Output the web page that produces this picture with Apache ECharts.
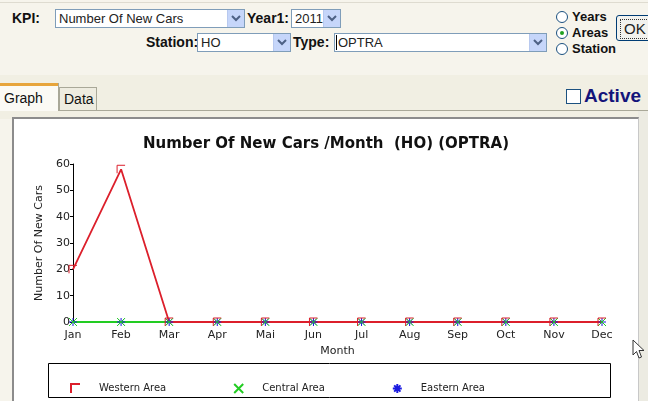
<!DOCTYPE html>
<html>
<head>
<meta charset="utf-8">
<script src="https://cdn.jsdelivr.net/npm/echarts@6/dist/echarts.min.js"></script>
<style>
body{margin:0;width:648px;height:401px;overflow:hidden;position:relative;background:#f6f4ec;font-family:"Liberation Sans",Arial,sans-serif;color:#111}
.a{position:absolute}
.lbl{font-weight:bold;font-size:14px;line-height:18px}
.sel{background:#fff;border:1px solid #7f9db9;height:19px;box-sizing:border-box;font-size:13px;line-height:17px;padding-left:3px;color:#222}
.arr{position:absolute;right:0;top:0;width:16px;height:17px;background:#c6d6fa;border-left:1px solid #b8c9ef}
.arr svg{position:absolute;left:3px;top:5px}
.rad{width:12px;height:12px;border:1px solid #1c5180;border-radius:50%;background:#fff;box-sizing:border-box}
.rad i{position:absolute;left:3px;top:3px;width:4px;height:4px;border-radius:50%;background:#21a121}
.rl{font-weight:bold;font-size:13px;line-height:14px}
</style>
</head>
<body>
<!-- top form -->
<div class="a" style="left:0;top:2px;width:648px;height:1px;background:#dedbd0"></div>
<div class="a lbl" style="left:12px;top:9px">KPI:</div>
<div class="a sel" style="left:55px;top:9px;width:190px">Number Of New Cars<span class="arr"><svg width="10" height="7"><path d="M1,1 L5,5 L9,1" stroke="#4d6185" stroke-width="2" fill="none"/></svg></span></div>
<div class="a lbl" style="left:247px;top:9px">Year1:</div>
<div class="a sel" style="left:291px;top:9px;width:50px">2011<span class="arr"><svg width="10" height="7"><path d="M1,1 L5,5 L9,1" stroke="#4d6185" stroke-width="2" fill="none"/></svg></span></div>

<div class="a lbl" style="left:146px;top:33px">Station:</div>
<div class="a sel" style="left:197px;top:33px;width:94px">HO<span class="arr"><svg width="10" height="7"><path d="M1,1 L5,5 L9,1" stroke="#4d6185" stroke-width="2" fill="none"/></svg></span></div>
<div class="a lbl" style="left:293px;top:33px">Type:</div>
<div class="a sel" style="left:334px;top:33px;width:213px"><span style="border-left:1px solid #000;margin-left:-2px;padding-left:1px">OPTRA</span><span class="arr"><svg width="10" height="7"><path d="M1,1 L5,5 L9,1" stroke="#4d6185" stroke-width="2" fill="none"/></svg></span></div>

<div class="a rad" style="left:556px;top:11px"></div>
<div class="a rl" style="left:572px;top:10px">Years</div>
<div class="a rad" style="left:556px;top:27px"><i></i></div>
<div class="a rl" style="left:572px;top:26px">Areas</div>
<div class="a rad" style="left:556px;top:43px"></div>
<div class="a rl" style="left:572px;top:42px">Station</div>

<div class="a" style="left:616px;top:15px;width:50px;height:26px;border:1px solid #003c74;border-radius:3px;background:#f2f2ee;box-sizing:border-box">
  <div class="a" style="left:3px;top:3px;width:40px;height:18px;border:1px dotted #333;font-size:15px;line-height:18px;padding-left:3px;color:#222">OK</div>
</div>

<!-- tabs -->
<div class="a" style="left:0;top:75px;width:648px;height:44px;background:#f1efe3"></div>
<div class="a" style="left:0;top:110px;width:648px;height:1px;background:#a9a898"></div>
<div class="a" style="left:0;top:83px;width:58px;height:28px;background:#fbfaf5;border-right:1px solid #a9a898"></div>
<div class="a" style="left:0;top:83px;width:58px;height:3px;background:#e7a53c"></div>
<div class="a" style="left:4px;top:90px;font-size:14px">Graph</div>
<div class="a" style="left:59px;top:87px;width:38px;height:23px;background:#eeece0;border:1px solid #a9a898;border-bottom:none;box-sizing:border-box"></div>
<div class="a" style="left:64px;top:91px;font-size:14px">Data</div>
<div class="a" style="left:566px;top:89px;width:15px;height:15px;border:1px solid #1c5180;background:#fff;box-sizing:border-box"></div>
<div class="a" style="left:584px;top:85px;font-size:19px;font-weight:bold;color:#14147a">Active</div>

<!-- chart panel -->
<div class="a" style="left:638px;top:111px;width:10px;height:290px;background:#ecebe2"></div>
<div class="a" style="left:12px;top:117px;width:627px;height:290px;background:#fff;border-top:2px solid #8c8c8c;border-left:2px solid #8c8c8c;border-right:1px solid #c8c8c8;box-sizing:border-box"></div>
<div id="chart" class="a" style="left:14px;top:119px;width:624px;height:282px"></div>

<svg class="a" style="left:632px;top:339px" width="14" height="22"><path d="M1,1 L1,16 L4.5,12.5 L7,19 L9.5,18 L7,11.5 L12,11.5 Z" fill="#fff" stroke="#333" stroke-width="1"/></svg>

<script>
var months = ['Jan', 'Feb', 'Mar', 'Apr', 'Mai', 'Jun', 'Jul', 'Aug', 'Sep', 'Oct', 'Nov', 'Dec'];
var western = [20, 58, 0, 0, 0, 0, 0, 0, 0, 0, 0, 0];
var central = [0, 0, 0, 0, 0, 0, 0, 0, 0, 0, 0, 0];
var eastern = [0, 0, 0, 0, 0, 0, 0, 0, 0, 0, 0, 0];

var symWest = 'path://M0,10 L0,0 L10,0';
var symCentral = 'path://M0,0 L10,10 M10,0 L0,10';
var symEast = 'path://M5,0 L5,10 M0,5 L10,5 M1.5,1.5 L8.5,8.5 M8.5,1.5 L1.5,8.5';

var font = 'DejaVu Sans';

function makeSeries(name, data, color, symbol) {
    return {
        name: name,
        type: 'line',
        data: data,
        symbol: symbol,
        symbolSize: 8,
        showAllSymbol: true,
        clip: false,
        itemStyle: {color: 'transparent', borderColor: color, borderWidth: 1},
        lineStyle: {color: color, width: 1.8}
    };
}

var option = {
    animation: false,
    title: {
        text: 'Number Of New Cars /Month  (HO) (OPTRA)',
        left: 'center',
        top: 13,
        textStyle: {fontFamily: font, fontSize: 15, fontWeight: 'bold', color: '#111'}
    },
    grid: {left: 59, right: 36, top: 45, bottom: 79, outerBoundsMode: 'none'},
    xAxis: {
        type: 'category',
        data: months,
        boundaryGap: false,
        name: 'Month',
        nameLocation: 'middle',
        nameGap: 24,
        nameTextStyle: {fontFamily: font, fontSize: 11, color: '#222'},
        axisLine: {lineStyle: {color: '#000', width: 1}},
        axisTick: {show: false},
        axisLabel: {margin: 8, fontFamily: font, fontSize: 11, color: '#222'},
        splitLine: {show: false}
    },
    yAxis: {
        type: 'value',
        min: 0,
        max: 60,
        interval: 10,
        name: 'Number Of New Cars',
        nameLocation: 'middle',
        nameGap: 23,
        nameTextStyle: {fontFamily: font, fontSize: 11, color: '#222'},
        axisLine: {show: true, lineStyle: {color: '#000', width: 1}},
        axisTick: {show: true, length: 3, lineStyle: {color: '#000'}},
        axisLabel: {margin: 3, fontFamily: font, fontSize: 11, color: '#222'},
        splitLine: {show: false}
    },
    legend: {
        left: 51,
        top: 259,
        itemWidth: 9,
        itemHeight: 9,
        itemGap: 67,
        selectedMode: false,
        textStyle: {fontFamily: font, fontSize: 10, color: '#222', padding: [0, 0, 0, 14]},
        data: [
            {name: 'Western Area', icon: symWest},
            {name: 'Central Area', icon: symCentral},
            {name: 'Eastern Area', icon: symEast}
        ]
    },
    graphic: [{
        type: 'rect',
        shape: {x: 34.5, y: 244.5, width: 562, height: 34},
        style: {fill: 'none', stroke: '#000', lineWidth: 1}
    }],
    series: [
        makeSeries('Eastern Area', eastern, '#1a1ae0', symEast),
        makeSeries('Central Area', central, '#22cc22', symCentral),
        makeSeries('Western Area', western, '#dc1f2b', symWest)
    ]
};

echarts.init(document.getElementById('chart')).setOption(option);
</script>
</body>
</html>
